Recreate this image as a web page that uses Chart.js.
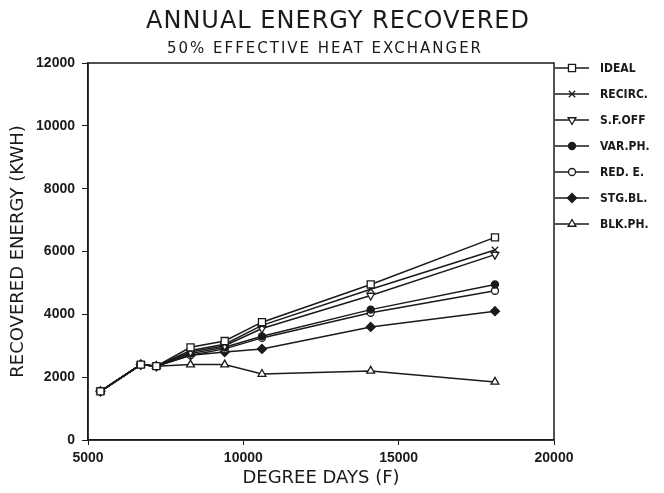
<!DOCTYPE html>
<html>
<head>
<meta charset="utf-8">
<script src="https://cdn.jsdelivr.net/npm/chart.js@4"></script>
<style>
  html, body { margin: 0; padding: 0; background: #fff; }
  #energyChart { display: block; }
</style>
</head>
<body>
<canvas id="energyChart" width="664" height="493"></canvas>
<script>
// values
const degreeDays = [5400, 6700, 7200, 8300, 9400, 10600, 14100, 18100];
const ideal   = [1550, 2400, 2350, 2950, 3150, 3750, 4950, 6450];
const recirc  = [1550, 2400, 2350, 2850, 3050, 3650, 4800, 6050];
const sfOff   = [1550, 2400, 2350, 2800, 3000, 3550, 4600, 5900];
const varPh   = [1550, 2400, 2350, 2750, 2950, 3300, 4150, 4950];
const redE    = [1550, 2400, 2350, 2700, 2900, 3250, 4050, 4750];
const stgBl   = [1550, 2400, 2350, 2700, 2800, 2900, 3600, 4100];
const blkPh   = [1550, 2400, 2350, 2400, 2400, 2100, 2200, 1850];
const seriesNames = ["IDEAL", "RECIRC.", "S.F.OFF", "VAR.PH.", "RED. E.", "STG.BL.", "BLK.PH."];
const xTicks = [5000, 10000, 15000, 20000];
const yTicks = [0, 2000, 4000, 6000, 8000, 10000, 12000];
const mainTitle = "ANNUAL ENERGY RECOVERED";
const subTitle = "50% EFFECTIVE HEAT EXCHANGER";

const ink = "#1a1a1a";
const markers = [
    { style: "rect", fill: "#fff", r: 5, rot: 0 },
    { style: "crossRot", fill: ink, r: 4.5, rot: 0 },
    { style: "triangle", fill: "#fff", r: 4.5, rot: 180 },
    { style: "circle", fill: ink, r: 3.5, rot: 0 },
    { style: "circle", fill: "#fff", r: 3.5, rot: 0 },
    { style: "rectRot", fill: ink, r: 4.5, rot: 0 },
    { style: "triangle", fill: "#fff", r: 4.5, rot: 0 }
];
const allSeries = [ideal, recirc, sfOff, varPh, redE, stgBl, blkPh];

const datasets = allSeries.map((vals, i) => ({
    label: seriesNames[i],
    data: vals.map((v, k) => ({ x: degreeDays[k], y: v })),
    borderColor: ink,
    borderWidth: 1.5,
    backgroundColor: markers[i].fill,
    pointStyle: markers[i].style,
    pointRadius: markers[i].r,
    pointRotation: markers[i].rot,
    pointBorderColor: ink,
    pointBorderWidth: 1.3,
    tension: 0
}));

// frame around the plot area
const frameBox = {
    id: "frameBox",
    beforeDatasetsDraw(chart) {
        const { ctx, chartArea: a } = chart;
        ctx.save();
        ctx.strokeStyle = ink;
        ctx.lineWidth = 1.5;
        ctx.strokeRect(a.left, a.top, a.right - a.left, a.bottom - a.top);
        ctx.restore();
    }
};

// titles sit a bit right of the plot centre in the original
const topTitles = {
    id: "topTitles",
    afterDraw(chart) {
        const ctx = chart.ctx;
        ctx.save();
        ctx.fillStyle = ink;
        ctx.textAlign = "center";
        ctx.textBaseline = "alphabetic";
        ctx.letterSpacing = "1px";
        ctx.font = "24px 'DejaVu Sans'";
        ctx.fillText(mainTitle, 338, 28);
        ctx.letterSpacing = "2px";
        ctx.font = "15px 'DejaVu Sans'";
        ctx.fillText(subTitle, 325, 53);
        ctx.restore();
    }
};

// legend on the right: short line with the marker, then the name
const sideLegend = {
    id: "sideLegend",
    afterDraw(chart) {
        const ctx = chart.ctx;
        ctx.save();
        chart.data.datasets.forEach((ds, i) => {
            const y = 68 + i * 26;
            ctx.strokeStyle = ink;
            ctx.lineWidth = 1.5;
            ctx.beginPath();
            ctx.moveTo(555, y);
            ctx.lineTo(589, y);
            ctx.stroke();
            ctx.fillStyle = markers[i].fill;
            ctx.lineWidth = 1.3;
            Chart.helpers.drawPoint(ctx, {
                pointStyle: markers[i].style,
                radius: markers[i].r,
                rotation: markers[i].rot,
                borderWidth: 1.3
            }, 572, y);
            ctx.fillStyle = ink;
            ctx.font = "bold 12px 'DejaVu Sans Condensed', 'DejaVu Sans'";
            ctx.textBaseline = "middle";
            ctx.fillText(ds.label, 600, y + 1);
        });
        ctx.restore();
    }
};

new Chart(document.getElementById("energyChart"), {
    type: "line",
    data: { datasets },
    options: {
        responsive: false,
        animation: false,
        layout: { padding: { left: 4, right: 110, top: 63, bottom: 0 } },
        plugins: {
            legend: { display: false },
            tooltip: { enabled: false },
            title: { display: false }
        },
        scales: {
            x: {
                type: "linear",
                min: xTicks[0],
                max: xTicks[xTicks.length - 1],
                afterBuildTicks: (s) => { s.ticks = xTicks.map(v => ({ value: v })); },
                afterFit: (s) => { s.height = 53; },
                grid: { drawOnChartArea: false, drawTicks: true, tickLength: 5, color: ink },
                border: { color: ink, width: 1.5 },
                ticks: {
                    color: ink,
                    padding: 5,
                    maxRotation: 0,
                    callback: (v) => String(v),
                    font: { family: "'Liberation Sans', Arial", size: 14, weight: "bold" }
                },
                title: {
                    display: true,
                    text: "DEGREE DAYS (F)",
                    color: ink,
                    padding: { top: 1 },
                    font: { family: "'DejaVu Sans'", size: 18, weight: "normal" }
                }
            },
            y: {
                min: yTicks[0],
                max: yTicks[yTicks.length - 1],
                afterBuildTicks: (s) => { s.ticks = yTicks.map(v => ({ value: v })); },
                afterFit: (s) => { s.width = 84; },
                grid: { drawOnChartArea: false, drawTicks: true, tickLength: 6, color: ink },
                border: { color: ink, width: 1.5 },
                ticks: {
                    color: ink,
                    padding: 7,
                    callback: (v) => String(v),
                    font: { family: "'Liberation Sans', Arial", size: 14, weight: "bold" }
                },
                title: {
                    display: true,
                    text: "RECOVERED ENERGY (KWH)",
                    color: ink,
                    padding: { bottom: 4 },
                    font: { family: "'DejaVu Sans'", size: 18, weight: "normal" }
                }
            }
        }
    },
    plugins: [frameBox, topTitles, sideLegend]
});
</script>
</body>
</html>
